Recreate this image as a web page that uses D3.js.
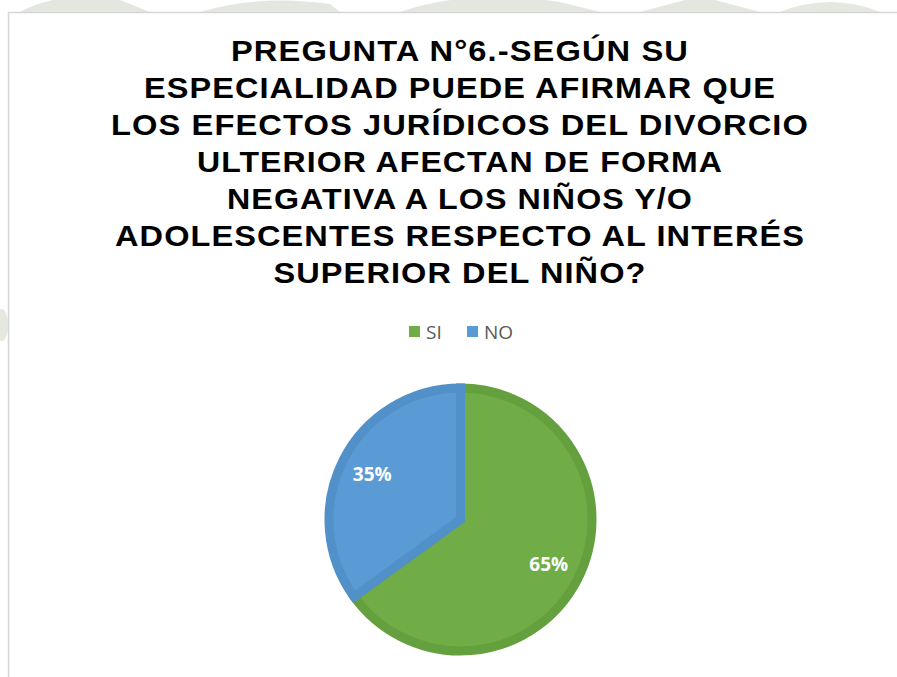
<!doctype html>
<html>
<head>
<meta charset="utf-8">
<script src="https://d3js.org/d3.v7.min.js"></script>
<style>
  body { margin: 0; background: #fff; }
</style>
</head>
<body>
<script>

// data
var categories = ["SI", "NO"];
var values = [65, 35];
var colors = ["#70ad47", "#5b9bd5"];
var borders = ["#64a03e", "#5190c8"];
var titleLines = [
    "PREGUNTA N°6.-SEGÚN SU",
    "ESPECIALIDAD PUEDE AFIRMAR QUE",
    "LOS EFECTOS JURÍDICOS DEL DIVORCIO",
    "ULTERIOR AFECTAN DE FORMA",
    "NEGATIVA A LOS NIÑOS Y/O",
    "ADOLESCENTES RESPECTO AL INTERÉS",
    "SUPERIOR DEL NIÑO?"
];
var titleWidths = [458, 632, 698, 526, 466, 690, 373];

var width = 897, height = 677;

var svg = d3.select("body").append("svg")
    .attr("width", width)
    .attr("height", height);

// faint watermark behind the chart box
var wm = svg.append("g").attr("fill", "#d9ded2").attr("opacity", 0.7);
wm.append("path").attr("d", "M20,12 Q60,-10 120,0 L150,12 Z");
wm.append("path").attr("d", "M200,12 Q260,-6 330,4 L340,12 Z");
wm.append("path").attr("d", "M400,12 Q470,-12 560,2 L600,12 Z");
wm.append("path").attr("d", "M640,12 L700,-4 L760,12 Z");
wm.append("path").attr("d", "M780,12 Q830,-8 880,12 Z");
wm.append("ellipse").attr("cx", 2).attr("cy", 325).attr("rx", 6).attr("ry", 16);

// chart box
svg.append("rect")
    .attr("x", 8.5).attr("y", 12.5)
    .attr("width", 1000).attr("height", 1000)
    .attr("fill", "#fff")
    .attr("stroke", "#d6d6d6")
    .attr("stroke-width", 1.5);

// title
var cx = 460;
svg.append("g").selectAll("text")
    .data(titleLines)
    .enter().append("text")
    .attr("x", cx)
    .attr("y", function(d, i) { return 61 + i * 37; })
    .attr("text-anchor", "middle")
    .attr("font-family", "Liberation Sans, Arial, sans-serif")
    .attr("font-weight", "bold")
    .attr("font-size", "30px")
    .attr("letter-spacing", "1px")
    .attr("fill", "#000")
    .attr("textLength", function(d, i) { return titleWidths[i]; })
    .attr("lengthAdjust", "spacingAndGlyphs")
    .text(function(d) { return d; });

// legend
var legendX = d3.scaleOrdinal().domain(categories).range([409, 467]);
var legend = svg.append("g").selectAll("g")
    .data(categories)
    .enter().append("g")
    .attr("transform", function(d) { return "translate(" + legendX(d) + ",326)"; });

legend.append("rect")
    .attr("width", 11).attr("height", 11)
    .attr("fill", function(d, i) { return colors[i]; });

legend.append("text")
    .attr("x", 17)
    .attr("y", 12.5)
    .attr("font-family", "Open Sans, sans-serif")
    .attr("font-size", "19px")
    .attr("fill", "#595959")
    .text(function(d) { return d; });

// pie
var R = 136, band = 9;
var pie = d3.pie().sort(null).value(function(d) { return d; });
var arcs = pie(values);
var arc = d3.arc().innerRadius(0).outerRadius(R - band / 2);
var labelArc = d3.arc().innerRadius(99).outerRadius(99);

var g = svg.append("g").attr("transform", "translate(460.5,519.5)");

g.selectAll("path")
    .data(arcs)
    .enter().append("path")
    .attr("d", arc)
    .attr("fill", function(d, i) { return colors[i]; })
    .attr("stroke", function(d, i) { return borders[i]; })
    .attr("stroke-width", band)
    .attr("stroke-linejoin", "miter");

g.selectAll(".lbl")
    .data(arcs)
    .enter().append("text")
    .attr("class", "lbl")
    .attr("transform", function(d) { return "translate(" + labelArc.centroid(d) + ")"; })
    .attr("text-anchor", "middle")
    .attr("dy", "0.36em")
    .attr("font-family", "Open Sans, sans-serif")
    .attr("font-weight", "bold")
    .attr("font-size", "19px")
    .attr("fill", "#fff")
    .text(function(d) { return d.data + "%"; });
</script>
</body>
</html>
